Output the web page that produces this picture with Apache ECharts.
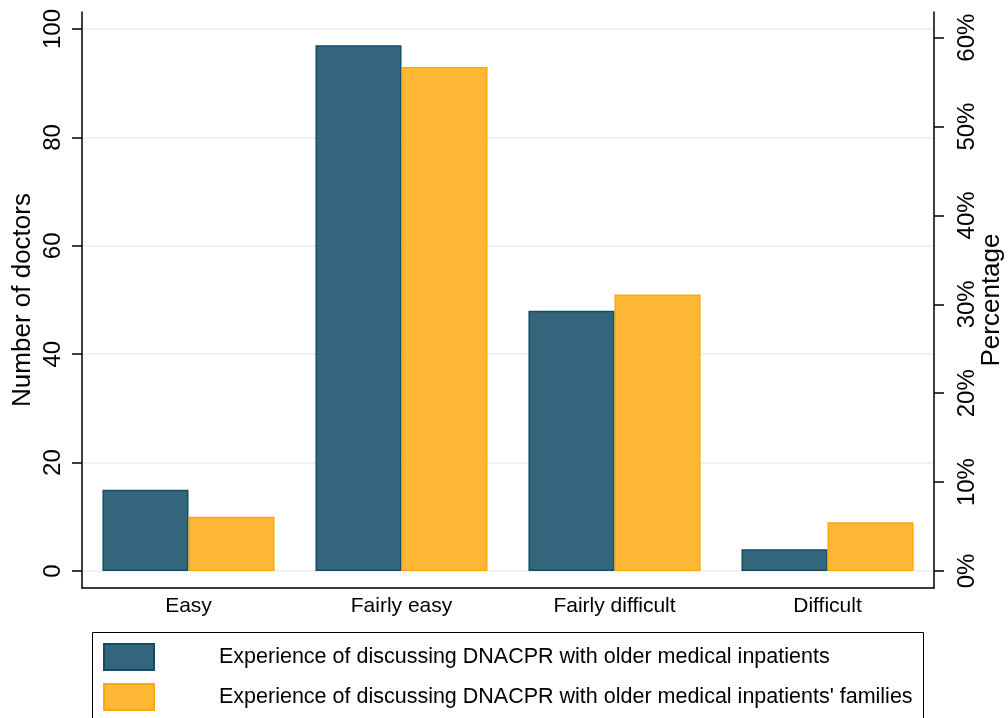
<!DOCTYPE html>
<html>
<head>
<meta charset="utf-8">
<script src="https://cdn.jsdelivr.net/npm/echarts@6/dist/echarts.min.js"></script>
<style>
html,body{margin:0;padding:0;background:#fff;}
#chart{width:1008px;height:718px;}
</style>
</head>
<body>
<div id="chart"></div>
<script>
const categories = ['Easy', 'Fairly easy', 'Fairly difficult', 'Difficult'];
const patientsValues = [15, 97, 48, 4];
const familiesValues = [10, 93, 51, 9];
const seriesNames = [
  'Experience of discussing DNACPR with older medical inpatients',
  "Experience of discussing DNACPR with older medical inpatients' families"
];
const leftTicks = [0, 20, 40, 60, 80, 100];
const rightTicks = [0, 10, 20, 30, 40, 50, 60];

const total = patientsValues.reduce((a, b) => a + b, 0);
const yMin = -3.14, yMax = 103.14;
const pMin = yMin / total * 100, pMax = yMax / total * 100;

const FONT = 'Liberation Sans, Arial, sans-serif';
const chart = echarts.init(document.getElementById('chart'));
chart.setOption({
  animation: false,
  backgroundColor: '#fff',
  grid: { left: 82, right: 74, top: 12, bottom: 130, containLabel: false, outerBoundsMode: 'none' },
  xAxis: {
    type: 'category',
    data: categories,
    axisLine: { onZero: false, lineStyle: { color: '#000', width: 1.5 } },
    axisTick: { show: false },
    axisLabel: { color: '#000', fontFamily: FONT, fontSize: 21, margin: 8 }
  },
  yAxis: [
    {
      type: 'value', min: yMin, max: yMax,
      name: 'Number of doctors', nameLocation: 'middle', nameRotate: 90, nameGap: 46, nameMoveOverlap: false,
      nameTextStyle: { color: '#000', fontFamily: FONT, fontSize: 26 },
      axisLine: { show: true, lineStyle: { color: '#000', width: 1.5 } },
      axisTick: { show: true, length: 10, customValues: leftTicks, lineStyle: { color: '#000', width: 1.5 } },
      axisLabel: { customValues: leftTicks, rotate: 90, color: '#000', fontFamily: FONT, fontSize: 24, margin: 17 },
      splitLine: { show: true, lineStyle: { color: '#e6eff1', width: 1.5 } }
    },
    {
      type: 'value', min: pMin, max: pMax, position: 'right',
      name: 'Percentage', nameLocation: 'middle', nameRotate: 90, nameGap: 45, nameMoveOverlap: false,
      nameTextStyle: { color: '#000', fontFamily: FONT, fontSize: 26 },
      axisLine: { show: true, lineStyle: { color: '#000', width: 1.5 } },
      axisTick: { show: true, length: 10, customValues: rightTicks, lineStyle: { color: '#000', width: 1.5 } },
      axisLabel: { customValues: rightTicks, rotate: 90, color: '#000', fontFamily: FONT, fontSize: 24, margin: 21,
        formatter: v => Math.round(v) + '%' },
      splitLine: { show: false }
    }
  ],
  legend: {
    orient: 'vertical', left: 103, top: 643, itemWidth: 50, itemHeight: 26, itemGap: 12,
    padding: 0,
    icon: 'rect',
    textStyle: { color: '#000', fontFamily: FONT, fontSize: 21.5, padding: [0, 0, 0, 60] },
    data: seriesNames
  },
  graphic: [{
    type: 'rect',
    shape: { x: 92.5, y: 632.5, width: 831, height: 100 },
    style: { fill: 'none', stroke: '#000', lineWidth: 1 }
  }],
  series: [
    {
      name: seriesNames[0], type: 'bar', data: patientsValues, barWidth: '40.4%', barGap: '0%',
      itemStyle: { color: '#33657d', borderColor: '#134c68', borderWidth: 1.5 }
    },
    {
      name: seriesNames[1], type: 'bar', data: familiesValues, barWidth: '40.4%', barGap: '0%',
      itemStyle: { color: '#ffb736', borderColor: '#f9a90a', borderWidth: 1.5 }
    }
  ]
});
</script>
</body>
</html>
